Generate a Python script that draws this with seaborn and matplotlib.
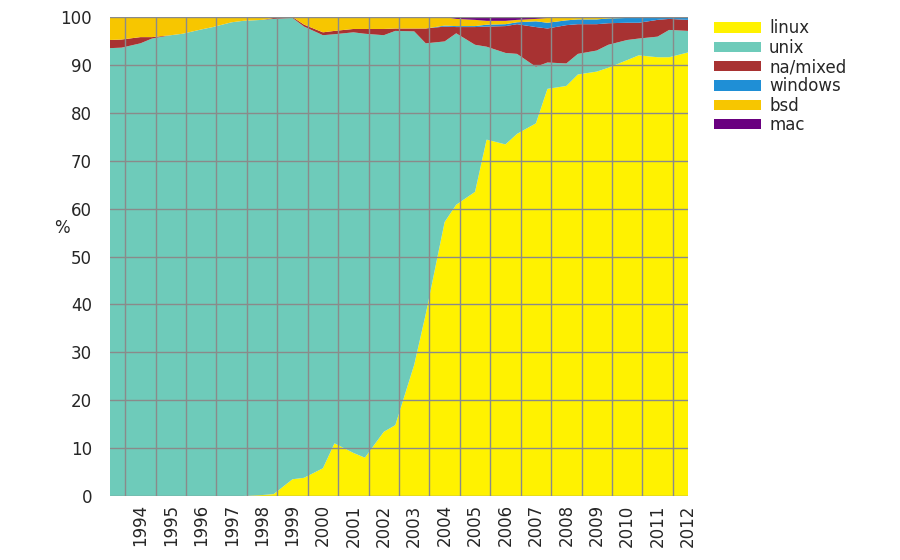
import seaborn as sns
import matplotlib.pyplot as plt
from matplotlib.ticker import MultipleLocator, FixedLocator, NullFormatter

# TOP500 lists: June and November of each year, 1993 to June 2012
years = list(range(1993, 2013))

linux = [0, 0, 0, 0, 0, 0, 0, 0, 0, 0,
         0.2, 0.4, 3.5, 3.8, 5.8, 11.0, 9.0, 8.0, 13.4, 14.8,
         27.4, 38.0, 57.2, 60.8, 63.5, 74.4, 73.4, 75.6, 77.8, 85.0,
         85.6, 88.0, 88.6, 89.4, 91.0, 92.0, 91.6, 91.6, 92.6]
unix = [93.5, 93.6, 94.5, 95.5, 96.2, 96.5, 97.4, 97.9, 98.9, 99.2,
        99.2, 99.2, 96.3, 94.2, 90.4, 85.4, 87.8, 88.5, 82.8, 82.3,
        69.6, 56.5, 37.7, 35.8, 30.7, 19.4, 19.1, 16.7, 11.8, 5.5,
        4.7, 4.3, 4.4, 4.8, 4.2, 3.5, 4.3, 5.7, 4.5]
na_mixed = [1.7, 1.7, 1.3, 0.3, 0, 0, 0, 0, 0, 0,
            0, 0.2, 0.2, 0.4, 0.6, 0.7, 0.7, 1.0, 1.3, 0.5,
            0.6, 3.1, 3.1, 1.3, 3.7, 4.2, 5.6, 6.2, 8.3, 7.1,
            8.0, 6.2, 5.5, 4.5, 3.6, 3.3, 3.5, 2.3, 2.3]
windows = [0, 0, 0, 0, 0, 0, 0, 0, 0, 0,
           0, 0, 0, 0, 0, 0, 0, 0, 0, 0,
           0, 0, 0.2, 0.2, 0.2, 0.4, 0.4, 0.4, 1.2, 1.2,
           1.0, 1.0, 1.0, 1.0, 1.0, 1.0, 0.4, 0.2, 0.4]
bsd = [4.8, 4.7, 4.2, 4.2, 3.8, 3.5, 2.6, 2.1, 1.1, 0.8,
       0.6, 0.2, 0, 1.6, 3.2, 2.9, 2.5, 2.5, 2.5, 2.4,
       2.4, 2.4, 1.8, 1.5, 1.3, 0.8, 0.7, 0.5, 0.5, 1.0,
       0.6, 0.4, 0.4, 0.2, 0.2, 0.2, 0.2, 0.2, 0.2]
mac = [0, 0, 0, 0, 0, 0, 0, 0, 0, 0,
       0, 0, 0, 0, 0, 0, 0, 0, 0, 0,
       0, 0, 0, 0.4, 0.6, 0.8, 0.8, 0.6, 0.4, 0.2,
       0.1, 0.1, 0.1, 0.1, 0, 0, 0, 0, 0]

labels = ['linux', 'unix', 'na/mixed', 'windows', 'bsd', 'mac']
colors = ['#fff200', '#6ecbba', '#a83232', '#1f8fd6', '#f7c600', '#6a0080']

# june ~ mid year, november ~ near year end
x = []
for y in years:
    x.append(y + 0.5)
    x.append(y + 0.88)
x = x[:len(linux)]

sns.set_style("white")
plt.rcParams['font.family'] = ['DejaVu Sans']

fig = plt.figure(figsize=(9, 5.6), dpi=100)
ax = fig.add_axes([110 / 900, 64 / 560, 578 / 900, 479 / 560])

ax.stackplot(x, linux, unix, na_mixed, windows, bsd, mac,
             labels=labels, colors=colors, linewidth=0, edgecolor='none')

ax.set_xlim(x[0], x[-1])
ax.set_ylim(0, 100)

# grid lines on year boundaries, labels in the middle of each year
ax.xaxis.set_major_locator(FixedLocator(range(1994, 2013)))
ax.xaxis.set_major_formatter(NullFormatter())
ax.xaxis.set_minor_locator(FixedLocator([y + 0.5 for y in range(1994, 2013)]))
ax.set_xticklabels([str(y) for y in range(1994, 2013)], minor=True,
                   rotation=90, fontsize=12)
ax.yaxis.set_major_locator(MultipleLocator(10))
ax.tick_params(axis='y', labelsize=12, length=0, pad=13)
ax.tick_params(axis='x', which='both', length=0, pad=6)

ax.set_axisbelow(False)
ax.grid(True, which='major', color='#8a8a8a', linewidth=1.0)
for s in ax.spines.values():
    s.set_visible(False)

ax.set_ylabel('%', rotation=0, fontsize=12)
ax.yaxis.set_label_coords(-0.083, 0.54)

ax.legend(loc='upper left', bbox_to_anchor=(1.045, 0.995), frameon=False,
          fontsize=12, handlelength=2.8, handleheight=0.6,
          handletextpad=0.5, labelspacing=0.08, borderaxespad=0, borderpad=0)

fig.savefig('out.png', dpi=100, facecolor='white')
